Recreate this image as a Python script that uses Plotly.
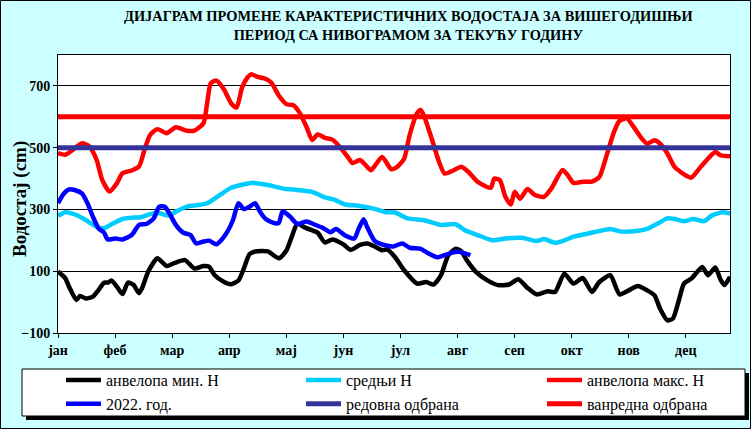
import plotly.graph_objects as go

# ---------------- data ----------------
MONTHS = ["јан", "феб", "мар", "апр", "мај", "јун", "јул", "авг", "сеп", "окт", "нов", "дец"]
MONTH_TICKS = [0, 31, 62, 93, 124, 155, 186, 217, 248, 279, 310, 341]

MIN_DAYS = [0, 4, 6, 10, 12, 15, 19, 22, 25, 27, 29, 32, 35, 38, 41, 44, 46, 49, 54, 59, 63, 69, 74, 79, 82, 85,
            90, 94, 98, 101, 104, 107, 114, 120, 124, 127, 130, 134, 139, 141, 145, 149, 155, 159, 164, 168, 172,
            176, 179, 183, 188, 195, 200, 204, 208, 212, 216, 219, 222, 227, 233, 239, 245, 250, 255, 260, 266,
            270, 275, 280, 285, 290, 294, 300, 305, 310, 315, 320, 324, 327, 331, 334, 337, 340, 344, 350, 353,
            357, 360, 362, 365]
MIN_H = [99, 77, 50, 7, 20, 12, 18, 39, 63, 63, 70, 50, 26, 63, 56, 29, 50, 99, 142, 117, 126, 136, 109, 117, 115, 88,
         66, 58, 70, 110, 155, 164, 164, 142, 166, 212, 254, 242, 230, 225, 193, 203, 187, 169, 185, 190, 180,
         168, 170, 146, 103, 60, 65, 57, 87, 152, 173, 165, 136, 98, 71, 55, 57, 74, 46, 25, 35,
         33, 92, 60, 78, 33, 65, 87, 25, 38, 52, 38, 22, -21, -59, -53, 1, 60, 76, 114, 87,
         112, 71, 55, 82]

MEAN_DAYS = [0, 4, 10, 15, 21, 25, 30, 35, 41, 45, 50, 55, 60, 64, 70, 77, 81, 88, 94, 100, 105, 114, 123, 130, 138,
             145, 150, 156, 163, 172, 178, 183, 190, 199, 208, 216, 221, 228, 236, 243, 252, 260, 264, 270, 275,
             280, 291, 300, 305, 314, 320, 326, 331, 335, 340, 345, 351, 355, 361, 365]
MEAN_H = [279, 291, 282, 266, 244, 239, 255, 269, 274, 275, 285, 288, 280, 293, 309, 315, 320, 347, 370, 380, 386, 379,
          367, 363, 357, 339, 332, 316, 312, 302, 291, 290, 271, 265, 250, 252, 233, 217, 200, 206, 208, 198, 204,
          192, 200, 212, 226, 237, 229, 230, 237, 255, 271, 269, 262, 269, 262, 280, 291, 287]

MAX_DAYS = [0, 4, 8, 13, 17, 21, 24, 28, 32, 35, 40, 44, 47, 50, 54, 59, 64, 70, 74, 79, 81, 83, 86, 90, 94, 97, 100,
            103, 105, 108, 113, 116, 120, 124, 128, 131, 135, 138, 141, 145, 149, 153, 157, 160, 164, 167, 170, 176,
            181, 184, 188, 191, 195, 197, 199, 203, 207, 210, 215, 219, 223, 228, 235, 237, 240, 243, 246, 248,
            251, 255, 259, 264, 268, 274, 277, 280, 285, 290, 294, 298, 302, 305, 309, 312, 317, 320, 324, 327,
            331, 335, 341, 344, 349, 353, 357, 360, 365]
MAX_H = [482, 477, 493, 514, 504, 460, 396, 358, 385, 417, 426, 439, 493, 541, 560, 547, 566, 555, 555, 579, 644, 709,
         717, 690, 644, 630, 695, 728, 738, 730, 722, 709, 668, 641, 637, 615, 567, 525, 543, 532, 526, 503, 473,
         450, 460, 444, 427, 470, 430, 437, 464, 541, 611, 622, 600, 529, 453, 416, 427, 438, 421, 389, 370, 400,
         395, 341, 316, 357, 335, 366, 347, 341, 368, 428, 410, 386, 390, 390, 405, 475, 551, 587, 595, 573, 530,
         513, 524, 513, 481, 437, 410, 403, 437, 464, 486, 475, 472]

Y2022_DAYS = [0, 3, 6, 9, 13, 16, 19, 22, 25, 27, 31, 35, 40, 44, 48, 52, 55, 58, 61, 64, 68, 72, 75, 79, 82, 86, 89,
              92, 95, 98, 101, 104, 107, 110, 113, 118, 120, 122, 126, 130, 135, 139, 144, 148, 151, 156, 161, 163,
              166, 168, 172, 177, 182, 187, 191, 197, 201, 206, 210, 213, 217, 221, 224]
Y2022_H = [320, 350, 365, 363, 352, 320, 276, 239, 225, 203, 206, 203, 217, 250, 253, 271, 309, 309, 282, 250, 225, 217,
           190, 196, 199, 187, 203, 228, 265, 320, 301, 309, 320, 290, 268, 255, 257, 294, 277, 253, 261, 252, 240,
           226, 237, 216, 206, 233, 268, 242, 198, 185, 180, 190, 176, 172, 158, 145, 152, 158, 163, 158, 152]

REDOVNA = 500
VANREDNA = 600
YEAR_END = 365

Y_TICKS = [-100, 100, 300, 500, 700]
Y_RANGE = [-100, 800]

TITLE = "ДИЈАГРАМ ПРОМЕНЕ КАРАКТЕРИСТИЧНИХ ВОДОСТАЈА ЗА ВИШЕГОДИШЊИ<br>ПЕРИОД СА НИВОГРАМОМ ЗА ТЕКУЋУ ГОДИНУ"
Y_TITLE = "Водостај (cm)"
NAMES = ["анвелопа мин. H", "средњи H", "анвелопа макс. H", "2022. год.", "редовна одбрана", "ванредна одбрана"]

# ---------------- layout geometry ----------------
W, H = 751, 429
PL, PR, PT, PB = 58, 730, 55, 333   # plot area in pixels


def px(x):
    return (x - PL) / (PR - PL)


def py(y):
    return (PB - y) / (PB - PT)


SERIF = "Liberation Serif"
LEGENDS = ["legend", "legend2", "legend3"]

fig = go.Figure()
series = [
    (MIN_DAYS, MIN_H, "#000000", "legend"),
    (MEAN_DAYS, MEAN_H, "#00CCFF", "legend2"),
    (MAX_DAYS, MAX_H, "#FF0000", "legend3"),
    (Y2022_DAYS, Y2022_H, "#0000FF", "legend"),
]
for i, (xd, yd, c, lg) in enumerate(series):
    fig.add_trace(go.Scatter(x=xd, y=yd, mode="lines", name=NAMES[i],
                             line=dict(color=c, width=4.5, shape="spline", smoothing=0.6),
                             legend=lg, legendrank=i + 1))
fig.add_trace(go.Scatter(x=[0, YEAR_END], y=[REDOVNA, REDOVNA], mode="lines", name=NAMES[4],
                         line=dict(color="#333399", width=5), legend="legend2", legendrank=5))
fig.add_trace(go.Scatter(x=[0, YEAR_END], y=[VANREDNA, VANREDNA], mode="lines", name=NAMES[5],
                         line=dict(color="#FF0000", width=5), legend="legend3", legendrank=6))

shapes = [
    # outer chart border
    dict(type="rect", xref="paper", yref="paper", x0=px(0.5), x1=px(750.5), y0=py(0.5), y1=py(428.5),
         line=dict(color="black", width=1), layer="below"),
    # legend shadow
    dict(type="rect", xref="paper", yref="paper", x0=px(26), x1=px(749), y0=py(373), y1=py(420),
         line=dict(width=0), fillcolor="black", layer="above"),
    # legend box
    dict(type="rect", xref="paper", yref="paper", x0=px(22), x1=px(745), y0=py(369), y1=py(416),
         line=dict(color="black", width=1), fillcolor="white", layer="above"),
]

legend_style = dict(orientation="v", yanchor="top", xanchor="left", bgcolor="rgba(0,0,0,0)", borderwidth=0,
                    font=dict(family=SERIF, size=16, color="black"), itemwidth=35, traceorder="normal")
legend_x = [61, 301, 542]

layout_legends = {}
for name, lx in zip(LEGENDS, legend_x):
    layout_legends[name] = dict(legend_style, x=px(lx), y=py(363))

fig.update_layout(
    width=W, height=H,
    margin=dict(l=PL, r=W - PR, t=PT, b=H - PB, pad=0, autoexpand=False),
    paper_bgcolor="#CCFFFF", plot_bgcolor="white",
    showlegend=True,
    shapes=shapes,
    annotations=[
        dict(text="<b>" + TITLE + "</b>", xref="paper", yref="paper", x=px(408), y=py(26),
             xanchor="center", yanchor="middle", showarrow=False,
             font=dict(family=SERIF, size=14.4, color="black")),
        dict(text="<b>" + Y_TITLE + "</b>", xref="paper", yref="paper", x=px(20), y=py(199),
             xanchor="center", yanchor="middle", showarrow=False, textangle=-90,
             font=dict(family=SERIF, size=19, color="black")),
    ],
    xaxis=dict(range=[0, YEAR_END], tickmode="array", tickvals=MONTH_TICKS, ticktext=MONTHS,
               showgrid=False, zeroline=False, showline=True, linecolor="black", linewidth=1, mirror=True,
               ticks="outside", ticklen=4, tickcolor="black",
               tickfont=dict(family=SERIF, size=14, color="black", weight="bold")),
    yaxis=dict(range=Y_RANGE, tickmode="array", tickvals=Y_TICKS,
               showgrid=True, gridcolor="black", gridwidth=1, zeroline=False,
               showline=True, linecolor="black", linewidth=1, mirror=True,
               ticks="outside", ticklen=4, tickcolor="black",
               tickfont=dict(family=SERIF, size=14, color="black", weight="bold")),
    **layout_legends,
)

fig.write_html("out.html", config={"displayModeBar": False},
               post_script="document.body.style.margin='0';document.body.style.overflow='hidden';")
